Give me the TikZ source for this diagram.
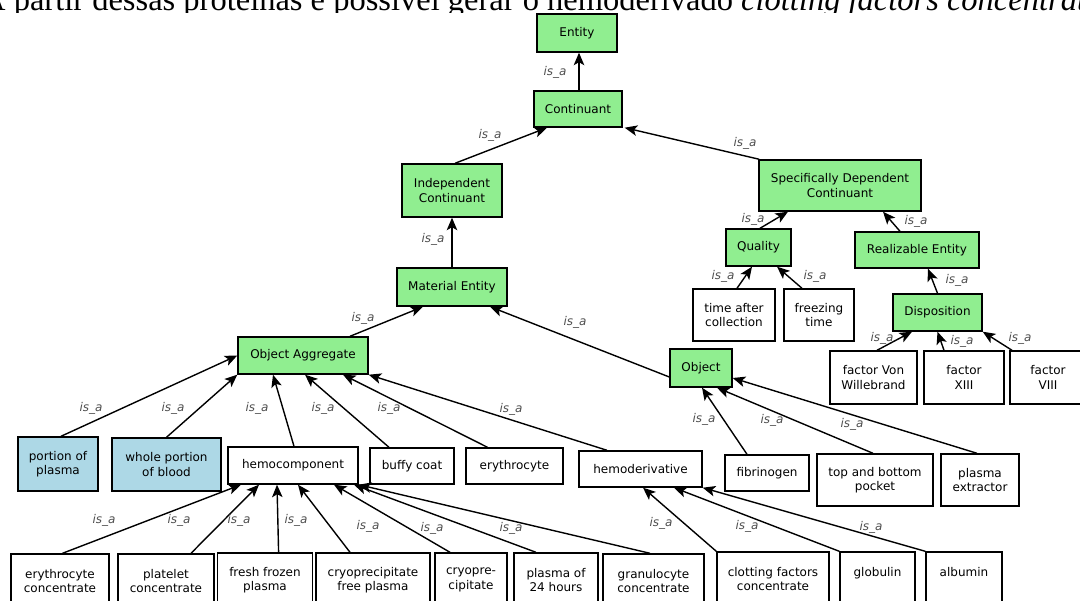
\documentclass[tikz,border=0pt]{standalone}
\usepackage{fontspec}
\setmainfont{Liberation Serif}
\newfontfamily\dv{DejaVu Sans}
\usetikzlibrary{arrows.meta}
\definecolor{lgreen}{HTML}{90EE90}
\definecolor{lblue}{HTML}{ADD8E6}
\definecolor{lblgray}{HTML}{505050}
\begin{document}
\begin{tikzpicture}[x=1pt,y=-1pt,
  box/.style={draw=black, line width=1.4pt, inner sep=0pt, align=center, text=black, font=\dv\fontsize{12}{14.5}\selectfont},
  gbox/.style={box, fill=lgreen},
  bbox/.style={box, fill=lblue},
  wbox/.style={box, fill=white},
  isa/.style={draw=black, line width=1.4pt, -{Stealth[length=12.5pt,width=10.5pt,inset=3pt]}},
  lbl/.style={font=\dv\itshape\fontsize{12}{14}\selectfont, text=lblgray, inner sep=0pt}]
\useasboundingbox (0,0) rectangle (1080,601);
\fill[white] (0,0) rectangle (1080,601);
\begin{scope}
\clip (-20,-40) rectangle (1100,12.5);
\node[anchor=base west, inner sep=0pt, font=\fontsize{32.5}{36}\selectfont] (cap) at (-18,11) {A partir dessas proteínas é possível gerar o hemoderivado \textit{clotting factors concentrate}};
\end{scope}
% nodes
\node[gbox, minimum width=80pt, minimum height=38pt] (ent) at (577,33) {Entity};
\node[gbox, minimum width=88pt, minimum height=36pt] (cont) at (578,109) {Continuant};
\node[gbox, minimum width=100pt, minimum height=53pt] (ind) at (452,190.5) {Independent\\Continuant};
\node[gbox, minimum width=162pt, minimum height=51pt] (sdc) at (840,185.5) {Specifically Dependent\\Continuant};
\node[gbox, minimum width=110pt, minimum height=38pt] (mat) at (452,287) {Material Entity};
\node[gbox, minimum width=65pt, minimum height=37pt] (qual) at (758.5,247.5) {Quality};
\node[gbox, minimum width=124pt, minimum height=36pt] (real) at (917,250) {Realizable Entity};
\node[wbox, minimum width=82pt, minimum height=52pt] (tac) at (734,315) {time after\\collection};
\node[wbox, minimum width=70pt, minimum height=52pt] (fz) at (819,315) {freezing\\time};
\node[gbox, minimum width=89pt, minimum height=37pt] (disp) at (937.5,312.5) {Disposition};
\node[wbox, minimum width=87pt, minimum height=53pt] (fvw) at (873.5,377.5) {factor Von\\Willebrand};
\node[wbox, minimum width=80pt, minimum height=53pt] (f13) at (964,377.5) {factor\\XIII};
\node[wbox, minimum width=76pt, minimum height=53pt] (f8) at (1048,377.5) {factor\\VIII};
\node[gbox, minimum width=62pt, minimum height=38pt] (obj) at (701,368) {Object};
\node[gbox, minimum width=130pt, minimum height=37pt] (oa) at (303,355.5) {Object Aggregate};
\node[bbox, minimum width=80pt, minimum height=54pt] (pop) at (58,464) {portion of\\plasma};
\node[bbox, minimum width=109pt, minimum height=53pt] (wpb) at (166.5,464.5) {whole portion\\of blood};
\node[wbox, minimum width=130pt, minimum height=37pt] (hc) at (293,465.5) {hemocomponent};
\node[wbox, minimum width=84pt, minimum height=36pt] (bc) at (412,466) {buffy coat};
\node[wbox, minimum width=97pt, minimum height=36pt] (ery) at (514.5,466) {erythrocyte};
\node[wbox, minimum width=123pt, minimum height=36pt] (hd) at (640.5,469) {hemoderivative};
\node[wbox, minimum width=84pt, minimum height=36pt] (fib) at (767,473) {fibrinogen};
\node[wbox, minimum width=116pt, minimum height=52pt] (tbp) at (875,480) {top and bottom\\pocket};
\node[wbox, minimum width=78pt, minimum height=52pt] (pe) at (980,480) {plasma\\extractor};
\node[wbox, minimum width=98pt, minimum height=54pt] (ec) at (60,581) {erythrocyte\\concentrate};
\node[wbox, minimum width=96pt, minimum height=54pt] (pc) at (166,581) {platelet\\concentrate};
\node[wbox, minimum width=95pt, minimum height=54pt] (ffp) at (265,580) {fresh frozen\\plasma};
\node[wbox, minimum width=114pt, minimum height=54pt] (cfp) at (373,580) {cryoprecipitate\\free plasma};
\node[wbox, minimum width=72pt, minimum height=54pt] (cryo) at (471,580) {cryopre-\\cipitate};
\node[wbox, minimum width=84pt, minimum height=54pt] (p24) at (556,580) {plasma of\\24 hours};
\node[wbox, minimum width=101pt, minimum height=54pt] (gc) at (653.5,581) {granulocyte\\concentrate};
\node[wbox, minimum width=112pt, minimum height=54pt] (cfc) at (773,579) {clotting factors\\concentrate};
\node[wbox, minimum width=75pt, minimum height=54pt] (glob) at (877.5,579) {globulin\\~};
\node[wbox, minimum width=76pt, minimum height=54pt] (alb) at (964,579) {albumin\\~};
% connectors
\draw[isa] ([xshift=1pt]cont.north) -- ([xshift=2pt]ent.south);
\draw[isa] ([xshift=3pt]ind.north) -- ([xshift=-31pt]cont.south);
\draw[isa] ([xshift=1pt]sdc.north west) -- ([xshift=2pt]cont.south east);
\draw[isa] (mat.north) -- (ind.south);
\draw[isa] ([xshift=47pt]oa.north) -- ([xshift=-29pt]mat.south);
\draw[isa] ([yshift=-9pt]obj.west) -- ([xshift=38pt]mat.south);
\draw[isa] ([xshift=1.5pt]qual.north) -- ([xshift=-52pt]sdc.south);
\draw[isa] ([xshift=-17pt]real.north) -- ([xshift=43pt]sdc.south);
\draw[isa] ([xshift=3pt]tac.north) -- ([xshift=-6.5pt]qual.south);
\draw[isa] ([xshift=-17pt]fz.north) -- ([xshift=18.5pt]qual.south);
\draw[isa] (disp.north) -- ([xshift=11pt]real.south);
\draw[isa] ([xshift=3.5pt]fvw.north) -- ([xshift=-25.5pt]disp.south);
\draw[isa] ([xshift=-20pt]f13.north) -- (disp.south);
\draw[isa] ([xshift=-36pt]f8.north) -- (disp.south east);
\draw[isa] ([xshift=-20pt]fib.north) -- ([xshift=1pt]obj.south);
\draw[isa] ([xshift=-2pt]tbp.north) -- ([xshift=16pt]obj.south);
\draw[isa] ([xshift=-3pt]pe.north) -- ([yshift=-10pt]obj.east);
\draw[isa] ([xshift=3pt]pop.north) -- (oa.west);
\draw[isa] (wpb.north) -- (oa.south west);
\draw[isa] ([xshift=1pt]hc.north) -- ([xshift=-30pt]oa.south);
\draw[isa] ([xshift=-23pt]bc.north) -- ([xshift=2pt]oa.south);
\draw[isa] ([xshift=-27pt]ery.north) -- ([xshift=40pt]oa.south);
\draw[isa] ([xshift=-33.5pt]hd.north) -- (oa.south east);
\draw[isa] ([xshift=2.5pt]ec.north) -- ([xshift=-52pt]hc.south);
\draw[isa] ([xshift=25pt]pc.north) -- ([xshift=-34pt]hc.south);
\draw[isa] ([xshift=13.6pt]ffp.north) -- ([xshift=-16pt]hc.south);
\draw[isa] ([xshift=-23pt]cfp.north) -- ([xshift=5pt]hc.south);
\draw[isa] ([xshift=-21pt]cryo.north) -- ([xshift=41pt]hc.south);
\draw[isa] ([xshift=-20pt]p24.north) -- ([xshift=61pt]hc.south);
\draw[isa] ([xshift=-3.5pt]gc.north) -- (hc.south east);
\draw[isa] (cfc.north west) -- ([xshift=2.5pt]hd.south);
\draw[isa] (glob.north west) -- ([xshift=33.5pt]hd.south);
\draw[isa] (alb.north west) -- (hd.south east);
% labels
\node[lbl] (l1) at (555,72) {is\_a};
\node[lbl] (l2) at (490,135) {is\_a};
\node[lbl] (l3) at (745,143) {is\_a};
\node[lbl] (l4) at (433,239) {is\_a};
\node[lbl] (l5) at (363,318) {is\_a};
\node[lbl] (l6) at (575,322) {is\_a};
\node[lbl] (l7) at (753,219) {is\_a};
\node[lbl] (l8) at (916,221) {is\_a};
\node[lbl] (l9) at (723,276) {is\_a};
\node[lbl] (l10) at (815,276) {is\_a};
\node[lbl] (l11) at (957,280) {is\_a};
\node[lbl] (l12) at (882,338) {is\_a};
\node[lbl] (l13) at (962,341) {is\_a};
\node[lbl] (l14) at (1020,338) {is\_a};
\node[lbl] (l15) at (704,419) {is\_a};
\node[lbl] (l16) at (772,420) {is\_a};
\node[lbl] (l17) at (852,424) {is\_a};
\node[lbl] (l18) at (91,408) {is\_a};
\node[lbl] (l19) at (173,408) {is\_a};
\node[lbl] (l20) at (257,408) {is\_a};
\node[lbl] (l21) at (323,408) {is\_a};
\node[lbl] (l22) at (389,408) {is\_a};
\node[lbl] (l23) at (511,409) {is\_a};
\node[lbl] (l24) at (104,520) {is\_a};
\node[lbl] (l25) at (179,520) {is\_a};
\node[lbl] (l26) at (239,520) {is\_a};
\node[lbl] (l27) at (296,520) {is\_a};
\node[lbl] (l28) at (368,526) {is\_a};
\node[lbl] (l29) at (432,528) {is\_a};
\node[lbl] (l30) at (511,528) {is\_a};
\node[lbl] (l31) at (661,523) {is\_a};
\node[lbl] (l32) at (747,526) {is\_a};
\node[lbl] (l33) at (871,527) {is\_a};
\end{tikzpicture}
\end{document}
